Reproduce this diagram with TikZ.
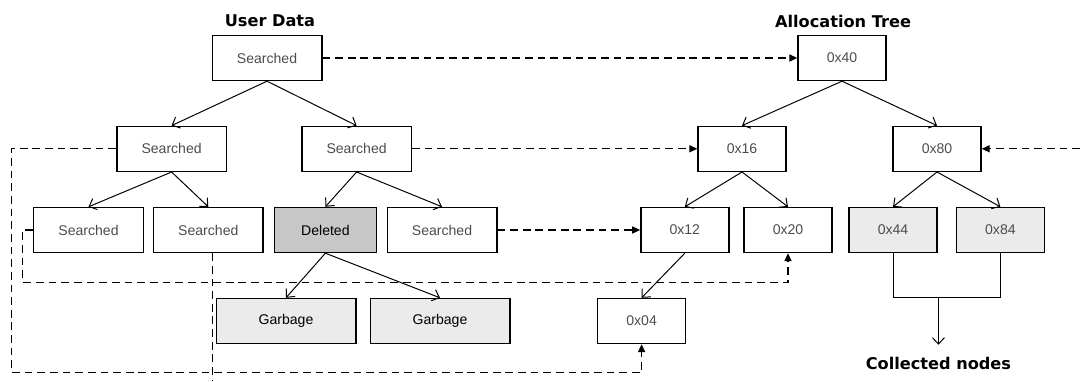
\documentclass[tikz,border=0pt]{standalone}
\usepackage{fontspec}
\setmainfont{Liberation Sans}
\newfontfamily\titlefont{DejaVu Sans}
\usetikzlibrary{arrows.meta}

\begin{document}
\begin{tikzpicture}[>={Straight Barb[length=1.6mm,width=3mm]},
    box/.style={draw, line width=1pt, minimum width=2.74cm, minimum height=1.125cm,
        inner sep=0pt, font=\fontsize{10}{12}\selectfont, text=black!70},
    hexbox/.style={box, minimum width=2.2cm},
    deadbox/.style={box, fill=black!22, text=black, minimum width=2.55cm},
    garbagebox/.style={box, fill=black!8, text=black, minimum width=3.49cm},
    freedbox/.style={hexbox, fill=black!8},
    title/.style={font=\titlefont\bfseries\fontsize{11.5}{14}\selectfont},
    edge/.style={->, line width=0.7pt},
    link/.style={line width=0.75pt, dash pattern=on 5.5pt off 3.5pt,
        -{Triangle[length=2mm,width=1.8mm]}}]

    \useasboundingbox (0,0) rectangle (27,9.525);

    % Titles
    \node[title] (udtitle) at (6.75,9.0) {User Data};
    \node[title] (attitle) at (21.075,9.0) {Allocation Tree};

    % User data tree
    \node[box] (ud0) at (6.675,8.075) {Searched};
    \node[box] (ud1) at (4.29,5.805) {Searched};
    \node[box] (ud2) at (8.915,5.805) {Searched};
    \node[box] (ud3) at (2.2125,3.775) {Searched};
    \node[box] (ud4) at (5.2075,3.775) {Searched};
    \node[deadbox] (del) at (8.135,3.775) {Deleted};
    \node[box] (ud5) at (11.05,3.775) {Searched};
    \node[garbagebox] (gb1) at (7.15,1.5) {Garbage};
    \node[garbagebox] (gb2) at (11.0,1.5) {Garbage};

    % Allocation tree
    \node[hexbox] (at40) at (21.05,8.075) {0x40};
    \node[hexbox] (at16) at (18.55,5.805) {0x16};
    \node[hexbox] (at80) at (23.425,5.805) {0x80};
    \node[hexbox] (at12) at (17.12,3.775) {0x12};
    \node[hexbox] (at20) at (19.7,3.775) {0x20};
    \node[freedbox] (at44) at (22.325,3.775) {0x44};
    \node[freedbox] (at84) at (25.01,3.775) {0x84};
    \node[hexbox] (at04) at (16.04,1.5) {0x04};

    % Tree edges
    \foreach \a/\b in {ud0/ud1, ud0/ud2, ud1/ud3, ud1/ud4, ud2/del, ud2/ud5, del/gb1, del/gb2,
                       at40/at16, at40/at80, at16/at12, at16/at20, at80/at44, at80/at84, at12/at04} {
        \draw[edge] (\a.south) -- (\b.north);
    }

    % Links from user data to allocation nodes
    \coordinate (rightin) at (27,5.805);
    \coordinate (cut) at (5.32,0);
    \draw[link] (ud0.east) -- (at40.west);
    \draw[link] (ud2.east) -- (at16.west);
    \draw[link] (ud5.east) -- (at12.west);
    \draw[link] (rightin) -- (at80.east);
    \draw[link] (ud1.west) -| (0.285,0.2125) -| (at04.south);
    \draw[link] (ud3.west) -| (0.5675,2.4675) -| (at20.south);
    \draw[link, -] (ud4.south -| cut) -- (cut);

    % Collected nodes
    \coordinate (gather) at (23.46,2.08);
    \node[title] (collected) at (gather |- 0,0.45) {Collected nodes};
    \draw[line width=0.7pt] (at44.south) |- (gather) -| (at84.south);
    \draw[edge, shorten >=5pt] (gather) -- (collected.north);
\end{tikzpicture}
\end{document}
